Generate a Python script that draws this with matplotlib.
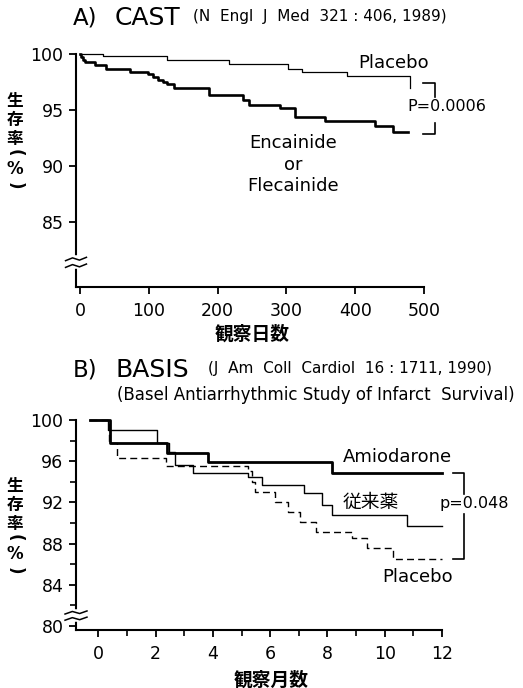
import matplotlib
matplotlib.use("Agg")
import matplotlib.pyplot as plt
from matplotlib.ticker import MultipleLocator

plt.rcParams['font.family'] = ['DejaVu Sans', 'Noto Sans CJK JP']

# A) CAST, survival (%) by observation day
cast_placebo_days = [0, 34, 126, 216, 303, 322, 388, 479, 479]
cast_placebo_surv = [100, 99.8, 99.5, 99.15, 98.7, 98.4, 98.0, 98.0, 97.0]
cast_drug_days = [0, 2, 5, 8, 22, 38, 73, 99, 106, 113, 120, 127, 137, 187,
                  237, 245, 291, 313, 356, 429, 455, 477]
cast_drug_surv = [100, 99.7, 99.5, 99.3, 99.0, 98.7, 98.42, 98.2, 97.95, 97.7,
                  97.5, 97.3, 96.95, 96.35, 95.9, 95.45, 95.15, 94.4, 94.05,
                  93.55, 93.05, 93.05]
cast_xticks = [0, 100, 200, 300, 400, 500]
cast_yticks = [85, 90, 95, 100]

# B) BASIS, survival (%) by observation month
basis_amio_months = [-0.29, 0.4, 2.39, 3.84, 8.17, 12.0]
basis_amio_surv = [100, 97.8, 96.8, 95.9, 94.85, 94.85]
basis_conv_months = [-0.29, 0.35, 2.04, 2.45, 2.68, 3.32, 5.24, 5.73, 7.18,
                     7.8, 8.17, 10.79, 12.0]
basis_conv_surv = [100, 99.0, 97.75, 96.9, 95.65, 94.85, 94.5, 93.7, 92.9,
                   91.75, 90.8, 89.7, 89.7]
basis_plac_months = [-0.29, 0.38, 0.64, 2.35, 5.24, 5.36, 5.47, 6.17, 6.63,
                     7.04, 7.6, 8.87, 9.37, 10.3, 12.0]
basis_plac_surv = [100, 97.8, 96.35, 95.55, 95.0, 94.0, 93.0, 92.0, 91.1,
                   90.1, 89.15, 88.5, 87.55, 86.5, 86.5]
basis_xticks = [0, 2, 4, 6, 8, 10, 12]
basis_yticks = [80, 84, 88, 92, 96, 100]

W, H = 523, 688


def fx(px):
    return px / W


def fy(py):
    return 1 - py / H


def style_axes(ax):
    for s in ["top", "right"]:
        ax.spines[s].set_visible(False)
    for s in ["left", "bottom"]:
        ax.spines[s].set_linewidth(1.5)
    ax.tick_params(direction="out", length=5, width=1.3, labelsize=12.5, pad=4)
    ax.tick_params(which="minor", direction="out", length=4, width=1.2)


def axis_break(ax, yval):
    tr = ax.get_yaxis_transform()
    ax.plot([0, 0], [yval - 0.35, yval + 0.35], color="white", lw=4,
            transform=tr, clip_on=False, zorder=5)
    for dy in (-0.3, 0.3):
        ax.plot([-0.03, -0.01, 0.01, 0.03],
                [yval + dy - 0.15, yval + dy + 0.1, yval + dy - 0.1, yval + dy + 0.15],
                color="black", lw=1.1, transform=tr, clip_on=False, zorder=6)


def bracket(ax, x0, x1, top, gap_top, gap_bot, bottom):
    kw = dict(color="black", lw=1.2, clip_on=False)
    ax.plot([x0, x1, x1], [top, top, gap_top], **kw)
    ax.plot([x1, x1, x0], [gap_bot, bottom, bottom], **kw)


def ylabel_vertical(fig, top):
    # 生存率（%） written vertically, brackets turned for vertical writing
    kw = dict(ha="center", va="center", fontsize=12, fontweight="bold")
    fig.text(fx(15), fy(top + 23), "生\n存\n率", linespacing=1.1, **kw)
    fig.text(fx(15), fy(top + 56), "(", rotation=270, **kw)
    fig.text(fx(15), fy(top + 72), "%", **kw)
    fig.text(fx(15), fy(top + 89), ")", rotation=270, **kw)


fig = plt.figure(figsize=(5.23, 6.88), dpi=100)

# ---- Panel A ----
axA = fig.add_axes([fx(76), fy(287), 348 / W, 233 / H])
axA.step(cast_placebo_days, cast_placebo_surv, where="post", color="black",
         lw=0.9, clip_on=False)
axA.step(cast_drug_days, cast_drug_surv, where="post", color="black",
         lw=1.9, clip_on=False)
axA.set_xlim(-5.8, 500)
axA.set_ylim(79.2, 100)
axA.set_xticks(cast_xticks)
axA.set_yticks(cast_yticks)
style_axes(axA)
axA.tick_params(axis="x", pad=6)
axis_break(axA, 81.4)

axA.text(456, 99.2, "Placebo", ha="center", va="center", fontsize=13)
axA.text(310, 90.1, "Encainide\nor\nFlecainide", ha="center", va="center",
         multialignment="center", fontsize=13, linespacing=1.25)
axA.text(476, 95.3, "P=0.0006", ha="left", va="center", fontsize=11.5)
bracket(axA, 498, 516, 97.4, 96.2, 93.8, cast_drug_surv[-1] - 0.2)

fig.text(fx(73), fy(18), "A)", fontsize=16.5, va="center", ha="left")
fig.text(fx(115), fy(18), "CAST", fontsize=18, va="center", ha="left")
fig.text(fx(193), fy(17), "(N  Engl  J  Med  321 : 406, 1989)", fontsize=11,
         va="center", ha="left")
fig.text(fx(252), fy(334), "観察日数", fontsize=13.5, fontweight="bold",
         ha="center", va="center")
ylabel_vertical(fig, 97)

# ---- Panel B ----
axB = fig.add_axes([fx(76), fy(630), 366 / W, 210 / H])
axB.step(basis_amio_months, basis_amio_surv, where="post", color="black",
         lw=2.0, clip_on=False)
axB.step(basis_conv_months, basis_conv_surv, where="post", color="black",
         lw=1.0, clip_on=False)
axB.step(basis_plac_months, basis_plac_surv, where="post", color="black",
         lw=1.0, dashes=(5, 3), clip_on=False)
axB.set_xlim(-0.78, 12)
axB.set_ylim(79.6, 100)
axB.set_xticks(basis_xticks)
axB.set_yticks(basis_yticks)
axB.xaxis.set_minor_locator(MultipleLocator(1))
axB.yaxis.set_minor_locator(MultipleLocator(2))
style_axes(axB)
axB.tick_params(axis="x", pad=6)
axis_break(axB, 81.0)

axB.text(8.54, 96.4, "Amiodarone", ha="left", va="center", fontsize=13)
axB.text(8.54, 92.0, "従来薬", ha="left", va="center", fontsize=13.5)
axB.text(11.93, 91.9, "p=0.048", ha="left", va="center", fontsize=11.5)
axB.text(9.93, 84.7, "Placebo", ha="left", va="center", fontsize=13)
bracket(axB, 12.38, 12.77, basis_amio_surv[-1], 92.85, 90.9,
        basis_plac_surv[-1])

fig.text(fx(73), fy(370), "B)", fontsize=16.5, va="center", ha="left")
fig.text(fx(115), fy(370), "BASIS", fontsize=18, va="center", ha="left")
fig.text(fx(208), fy(369), "(J  Am  Coll  Cardiol  16 : 1711, 1990)",
         fontsize=11, va="center", ha="left")
fig.text(fx(117), fy(395),
         "(Basel Antiarrhythmic Study of Infarct  Survival)", fontsize=12,
         va="center", ha="left")
fig.text(fx(271), fy(680), "観察月数", fontsize=13.5, fontweight="bold",
         ha="center", va="center")
ylabel_vertical(fig, 482)

fig.savefig("out.png", dpi=100)
